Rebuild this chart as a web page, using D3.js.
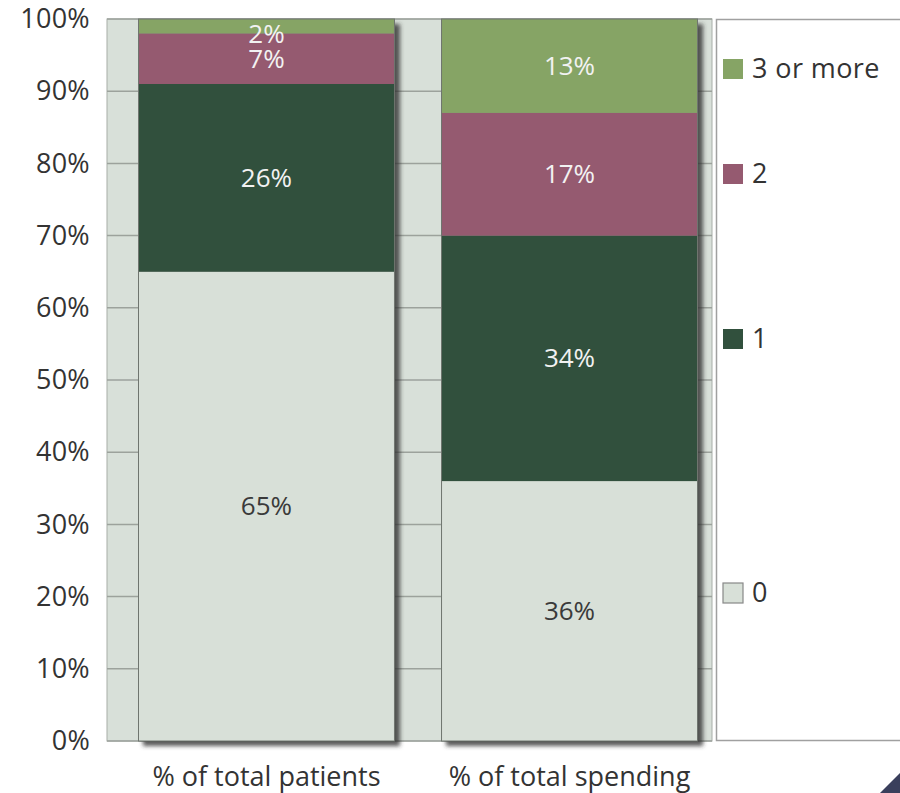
<!DOCTYPE html>
<html><head><meta charset="utf-8">
<script src="https://cdn.jsdelivr.net/npm/d3@7"></script>
<style>body{margin:0;background:#fff;} svg{display:block;font-family:"Open Sans","Noto Sans",sans-serif;}</style>
</head><body>
<svg id="c" width="900" height="793"></svg>
<script>
const categories = ["% of total patients", "% of total spending"];
const seriesNames = ["0", "1", "2", "3 or more"];
const s0 = [65, 36];
const s1 = [26, 34];
const s2 = [7, 17];
const s3 = [2, 13];
const yTicks = [0,10,20,30,40,50,60,70,80,90,100];
const colors = ["#d8e0d8", "#31503d", "#955a70", "#86a465"];
const textColors = ["#3a3a3a", "#f2f2f2", "#f2f2f2", "#f2f2f2"];

const svg = d3.select("#c");
const plot = {left:107, right:712, top:19, bottom:741};
const y = d3.scaleLinear().domain([0,100]).range([plot.bottom, plot.top]);
const x = d3.scaleBand().domain(categories).range([138, 698]).paddingInner(0.152).paddingOuter(0);

const defs = svg.append("defs");
const f = defs.append("filter").attr("id","sh").attr("x","-10%").attr("y","-10%").attr("width","130%").attr("height","130%");
f.append("feDropShadow").attr("dx",5).attr("dy",5).attr("stdDeviation",2.2).attr("flood-color","#333").attr("flood-opacity",0.8);

// plot background
svg.append("rect").attr("x",plot.left).attr("y",plot.top).attr("width",plot.right-plot.left).attr("height",plot.bottom-plot.top)
  .attr("fill","#d8e0d9").attr("stroke","#a8aea8").attr("stroke-width",1);

// gridlines
svg.append("g").selectAll("line").data(yTicks).join("line")
  .attr("x1",plot.left).attr("x2",plot.right).attr("y1",d=>y(d)).attr("y2",d=>y(d))
  .attr("stroke","#9ca29c").attr("stroke-width",1.5);

// y axis labels
const yAxis = d3.axisLeft(y).tickValues(yTicks).tickFormat(d=>d+"%").tickSize(0).tickPadding(17);
const ga = svg.append("g").attr("transform",`translate(${plot.left},0)`).call(yAxis);
ga.select(".domain").remove();
ga.selectAll("text").attr("font-size",27).attr("fill","#333").attr("font-family","'Open Sans',sans-serif").attr("letter-spacing","0.3");

// stacked data
const table = categories.map((c,i)=>({cat:c, "0":s0[i], "1":s1[i], "2":s2[i], "3 or more":s3[i]}));
const stacked = d3.stack().keys(seriesNames)(table);

categories.forEach((c,i)=>{
  const g = svg.append("g");
  g.append("rect").attr("x",x(c)).attr("y",y(100)).attr("width",x.bandwidth()).attr("height",y(0)-y(100))
    .attr("fill","#888").attr("filter","url(#sh)");
  stacked.forEach((layer,k)=>{
    const d = layer[i];
    g.append("rect").attr("x",x(c)).attr("y",y(d[1])).attr("width",x.bandwidth()).attr("height",y(d[0])-y(d[1]))
      .attr("fill",colors[k]);
  });
  g.append("rect").attr("x",x(c)+0.5).attr("y",y(100)).attr("width",x.bandwidth()-1).attr("height",y(0)-y(100))
    .attr("fill","none").attr("stroke","#6f756f").attr("stroke-width",1);
  stacked.forEach((layer,k)=>{
    const d = layer[i];
    const v = d[1]-d[0];
    const mid = (y(d[0])+y(d[1]))/2;
    const ty = Math.max(mid, y(d[1])+15);
    g.append("text").attr("x",x(c)+x.bandwidth()/2).attr("y",ty).attr("dy","0.35em")
      .attr("text-anchor","middle").attr("font-size",26).attr("fill",textColors[k]).text(v+"%");
  });
});

// x labels
svg.append("g").selectAll("text").data(categories).join("text")
  .attr("x",d=>x(d)+x.bandwidth()/2).attr("y",786).attr("text-anchor","middle")
  .attr("font-size",27).attr("fill","#333").attr("letter-spacing","0").text(d=>d);

// legend
svg.append("rect").attr("x",716.5).attr("y",19.5).attr("width",190).attr("height",721)
  .attr("fill","#fff").attr("stroke","#a0a0a0").attr("stroke-width",1.5);
const legendY = {"3 or more":69, "2":174, "1":339, "0":593};
const lg = svg.append("g").selectAll("g").data(seriesNames).join("g")
  .attr("transform",d=>`translate(723,${legendY[d]})`);
lg.append("rect").attr("x",0).attr("y",-10).attr("width",20).attr("height",20)
  .attr("fill",(d,i)=>colors[i]).attr("stroke",(d,i)=>i===0?"#888":"none").attr("stroke-width",1.2);
lg.append("text").attr("x",29).attr("y",0).attr("dy","0.35em").attr("font-size",27).attr("letter-spacing","0.4").attr("fill","#333").text(d=>d);

// corner decoration
svg.append("path").attr("d","M880,793 L900,773 L900,793 Z").attr("fill","#3a3f5c");
</script>
</body></html>
